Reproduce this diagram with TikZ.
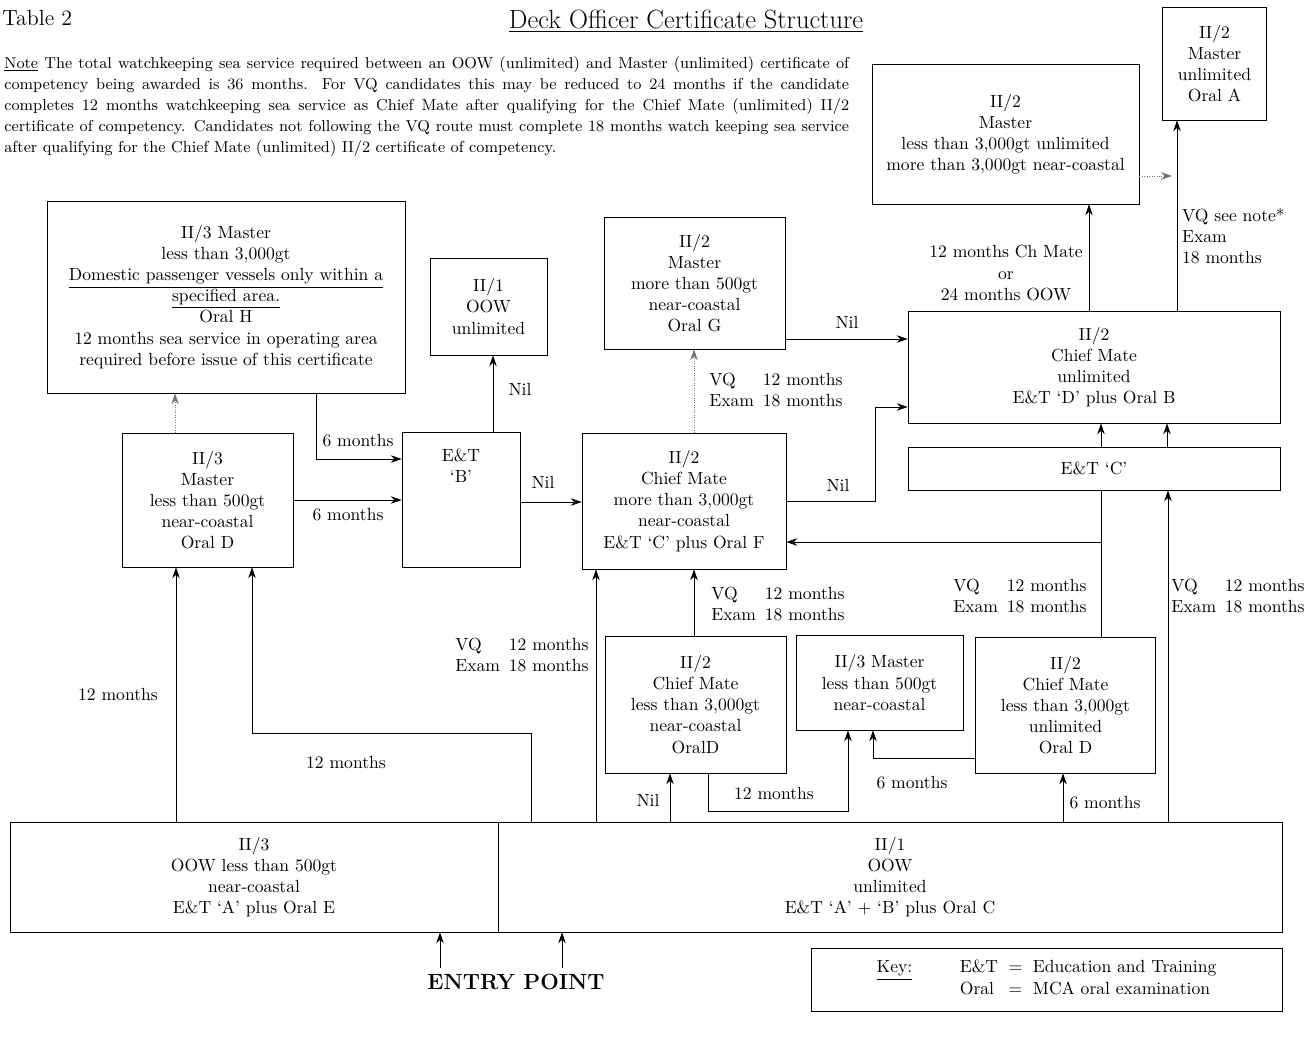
\documentclass[tikz,border=0pt]{standalone}
\usepackage{tikz}
\usetikzlibrary{arrows.meta}

\newcommand{\vqmonths}{\begin{tabular}{@{}l@{\hspace{5pt}}l@{}}VQ & 12 months\\ Exam & 18 months\end{tabular}}

\begin{document}
\begin{tikzpicture}[x=0.02cm, y=-0.02cm,
    every node/.style={font=\fontsize{10}{12}\selectfont},
    cert/.style={draw, rectangle, align=center, inner sep=0pt},
    arr/.style={-{Stealth[length=2.2mm,width=1.5mm]}},
    faint/.style={arr, densely dotted, black!55},
    lbl/.style={align=center, inner sep=1pt, text=black}]

    \useasboundingbox (0,0) rectangle (1311,1048);

    % Heading and note
    \node [anchor=west, inner sep=0pt,
    font=\fontsize{12.5}{15}\selectfont] (tablenum) at (2,18) {Table 2};
    \node [font=\fontsize{15}{18}\selectfont] (title) at (686,21)
    {\underline{Deck Officer Certificate Structure}};
    \node [anchor=north west,
    inner sep=0pt,
    text width=16.9cm,
    align=justify,
    font=\fontsize{9}{12}\selectfont] (note) at (4,56)
    {\hyphenpenalty=10000\underline{Note} The total watchkeeping sea service required between an OOW (unlimited) and Master (unlimited) certificate of\linebreak
    competency being awarded is 36 months. For VQ candidates this may be reduced to 24 months if the candidate\linebreak
    completes 12 months watchkeeping sea service as Chief Mate after qualifying for the Chief Mate (unlimited) II/2\linebreak
    certificate of competency. Candidates not following the VQ route must complete 18 months watch keeping sea service\linebreak
    after qualifying for the Chief Mate (unlimited) II/2 certificate of competency.};

    % II/3 Master domestic passenger
    \node [cert,
    minimum width=7.16cm,
    minimum height=3.84cm] (masterH) at (226,297)
    {II/3 Master\\ less than 3,000gt\\ \underline{Domestic passenger vessels only within a}\\
    \underline{specified area.}\\ Oral H\\ 12 months sea service in operating area\\
    required before issue of this certificate};

    % II/1 OOW unlimited (top)
    \node [cert,
    minimum width=2.34cm,
    minimum height=1.94cm] (oowI) at (488.5,306.5) {II/1\\ OOW\\ unlimited};

    % II/2 Master near-coastal
    \node [cert,
    minimum width=3.62cm,
    minimum height=2.64cm] (masterG) at (694.5,283)
    {II/2\\ Master\\ more than 500gt\\ near-coastal\\ Oral G};

    % II/2 Master less than 3,000gt
    \node [cert,
    minimum width=5.34cm,
    minimum height=2.8cm] (masterNC) at (1005.5,134)
    {II/2\\ Master\\ less than 3,000gt unlimited\\ more than 3,000gt near-coastal};

    % II/2 Master unlimited
    \node [cert,
    minimum width=2.08cm,
    minimum height=2.26cm] (masterA) at (1214.5,63.5)
    {II/2\\ Master\\ unlimited\\ Oral A};

    % II/2 Chief Mate unlimited
    \node [cert,
    minimum width=7.44cm,
    minimum height=2.24cm] (cmB) at (1094,367)
    {II/2\\ Chief Mate\\ unlimited\\ E\&T `D' plus Oral B};

    % E&T C
    \node [cert,
    minimum width=7.44cm,
    minimum height=0.86cm] (etC) at (1094,468.5) {E\&T `C'};

    % II/3 Master less than 500gt
    \node [cert,
    minimum width=3.42cm,
    minimum height=2.68cm] (masterD) at (207.5,500)
    {II/3\\ Master\\ less than 500gt\\ near-coastal\\ Oral D};

    % E&T B
    \node [cert,
    minimum width=2.36cm,
    minimum height=2.7cm,
    label={[anchor=north, align=center, yshift=-0.22cm]90:{E\&T\\ `B'}}] (etB) at (461,499.5) {};

    % II/2 Chief Mate near-coastal
    \node [cert,
    minimum width=4.08cm,
    minimum height=2.72cm] (cmF) at (684,501)
    {II/2\\ Chief Mate\\ more than 3,000gt\\ near-coastal\\ E\&T `C' plus Oral F};

    % II/2 Chief Mate less than 3,000gt near-coastal
    \node [cert,
    minimum width=3.62cm,
    minimum height=2.74cm] (cmDNC) at (695.5,704.5)
    {II/2\\ Chief Mate\\ less than 3,000gt\\ near-coastal\\ OralD};

    % II/3 Master less than 500gt (lower)
    \node [cert,
    minimum width=3.34cm,
    minimum height=1.9cm] (master500) at (879.5,682.5)
    {II/3 Master\\ less than 500gt\\ near-coastal};

    % II/2 Chief Mate less than 3,000gt unlimited
    \node [cert,
    minimum width=3.6cm,
    minimum height=2.72cm] (cmDU) at (1065.5,705)
    {II/2\\ Chief Mate\\ less than 3,000gt\\ unlimited\\ Oral D};

    % II/3 OOW
    \node [cert,
    minimum width=9.76cm,
    minimum height=2.2cm] (oowE) at (254,877)
    {II/3\\ OOW less than 500gt\\ near-coastal\\ E\&T `A' plus Oral E};

    % II/1 OOW unlimited (bottom)
    \node [cert,
    minimum width=15.68cm,
    minimum height=2.2cm] (oowC) at (890,877)
    {II/1\\ OOW\\ unlimited\\ E\&T `A' + `B' plus Oral C};

    % Key
    \node [cert,
    minimum width=9.42cm,
    minimum height=1.26cm] (key) at (1046.5,979.5)
    {\begin{tabular}{@{}l@{\hspace{0.95cm}}l@{\hspace{6pt}}c@{\hspace{6pt}}l@{}}
    \underline{Key:} & E\&T & = & Education and Training\\
     & Oral & = & MCA oral examination
    \end{tabular}};

    % Entry point
    \node [font=\fontsize{12.5}{15}\selectfont\bfseries] (entry) at (516,982) {ENTRY POINT};
    \coordinate (entryA) at (440,968);
    \coordinate (entryB) at (562,968);
    \draw[arr] (entryA) -- (entryA |- oowE.south);
    \draw[arr] (entryB) -- (entryB |- oowC.south);

    % Left hand routes
    \draw[faint] (masterD.north -| 175,0) -- (masterH.south -| 175,0);
    \draw[arr] (masterH.south -| 316,0) |- (etB.west |- 0,459)
    node[lbl] at (358,441) {6 months};
    \draw[arr] (masterD.east) -- (masterD.east -| etB.west)
    node[lbl] at (348,515) {6 months};
    \draw[arr] (etB.north -| 493,0) -- (oowI.south -| 493,0)
    node[lbl] at (520,389) {Nil};
    \draw[arr] (etB.east |- 0,502) -- (cmF.west |- 0,502)
    node[lbl] at (543,482) {Nil};
    \draw[arr] (oowE.north -| 176,0) -- (masterD.south -| 176,0)
    node[lbl] at (118,694) {12 months};
    \draw[arr] (oowC.north -| 531,0) |- (252,733) -- (masterD.south -| 252,0)
    node[lbl] at (346,762) {12 months};

    % Chief Mate routes
    \draw[faint] (cmF.north -| 694,0) -- (masterG.south -| 694,0)
    node[lbl] at (776,392) {\vqmonths};
    \draw[arr] (masterG.east |- 0,339) -- (cmB.west |- 0,339)
    node[lbl] at (847,322) {Nil};
    \draw[arr] (cmF.east) -| (875,407) -- (cmB.west |- 0,407)
    node[lbl] at (838,485) {Nil};
    \draw[arr] (oowC.north -| 596,0) -- (cmF.south -| 596,0)
    node[lbl] at (522,657) {\vqmonths};
    \draw[arr] (cmDNC.north -| 694,0) -- (cmF.south -| 694,0)
    node[lbl] at (778,606) {\vqmonths};
    \draw[arr] (oowC.north -| 670,0) -- (cmDNC.south -| 670,0)
    node[lbl] at (648,800) {Nil};
    \draw[arr] (cmDNC.south -| 708,0) |- (848,811) -- (master500.south -| 848,0)
    node[lbl] at (774,793) {12 months};
    \draw[arr] (cmDU.west |- 0,758) -| (master500.south -| 873,0)
    node[lbl] at (912,783) {6 months};
    \draw[arr] (oowC.north -| 1063,0) -- (cmDU.south -| 1063,0)
    node[lbl] at (1105,803) {6 months};

    % Routes to E&T C and Chief Mate unlimited
    \coordinate (junction) at (1101,542);
    \draw (cmDU.north -| junction) -- (etC.south -| junction)
    node[lbl] at (1020,598) {\vqmonths};
    \draw[arr] (junction) -- (cmF.east |- junction);
    \draw[arr] (oowC.north -| 1168,0) -- (etC.south -| 1168,0)
    node[lbl] at (1238,598) {\vqmonths};
    \draw[arr] (etC.north -| 1101,0) -- (cmB.south -| 1101,0);
    \draw[arr] (etC.north -| 1167,0) -- (cmB.south -| 1167,0);

    % Master routes
    \draw[arr] (cmB.north -| 1089,0) -- (masterNC.south -| 1089,0)
    node[lbl] at (1006,273) {12 months Ch Mate\\ or\\ 24 months OOW};
    \draw[arr] (cmB.north -| 1177,0) -- (masterA.south -| 1177,0)
    node[lbl, anchor=west, align=left] at (1180,236) {VQ see note*\\ Exam\\ 18 months};
    \coordinate (vqline) at (1172,176);
    \draw[faint] (masterNC.east |- vqline) -- (vqline);
\end{tikzpicture}
\end{document}
